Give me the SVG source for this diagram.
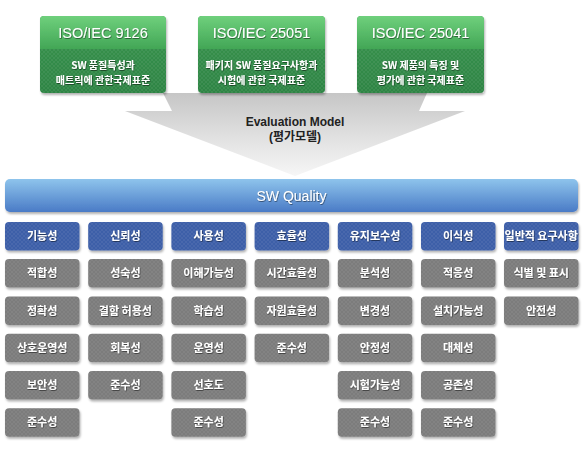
<svg xmlns="http://www.w3.org/2000/svg" width="585" height="450" viewBox="0 0 585 450">
<defs>
<linearGradient id="gTop" x1="0" y1="0" x2="0" y2="1"><stop offset="0" stop-color="#6fd07c"/><stop offset="1" stop-color="#42a656"/></linearGradient>
<linearGradient id="gBot" x1="0" y1="0" x2="0" y2="1"><stop offset="0" stop-color="#3a9650"/><stop offset="1" stop-color="#2e8444"/></linearGradient>
<linearGradient id="arrowG" x1="0" y1="0" x2="0" y2="1"><stop offset="0" stop-color="#c6c6c6"/><stop offset="0.6" stop-color="#e4e4e4"/><stop offset="1" stop-color="#f6f6f6"/></linearGradient>
<linearGradient id="barG" x1="0" y1="0" x2="0" y2="1"><stop offset="0" stop-color="#8ec4ec"/><stop offset="1" stop-color="#4a7bc6"/></linearGradient>
<pattern id="tex" width="4" height="4" patternUnits="userSpaceOnUse"><path d="M0 4 L4 0 M0 0 L4 4" stroke="#ffffff" stroke-width="0.5" opacity="0.12"/></pattern>
<filter id="sh" x="-10%" y="-10%" width="120%" height="130%"><feDropShadow dx="1" dy="2" stdDeviation="1.2" flood-color="#000" flood-opacity="0.3"/></filter>
<filter id="ts" x="-10%" y="-20%" width="120%" height="140%"><feDropShadow dx="0.6" dy="0.8" stdDeviation="0.4" flood-color="#000" flood-opacity="0.55"/></filter>
</defs>
<style>
.cat{fill:#3c5ea8}
.sub{fill:#7b7b7b}
.t{font-family:"Noto Sans CJK KR","Liberation Sans",sans-serif;font-size:11px;font-weight:bold;fill:#fff;text-anchor:middle;filter:url(#ts)}
.gt{font-family:"Liberation Sans","Noto Sans CJK KR",sans-serif;font-size:14.5px;fill:#fff;text-anchor:middle;filter:url(#ts)}
.gs{font-family:"Noto Sans CJK KR","Liberation Sans",sans-serif;font-size:10px;font-weight:bold;fill:#fff;text-anchor:middle;filter:url(#ts)}
.em{font-family:"Liberation Sans","Noto Sans CJK KR",sans-serif;font-size:12px;font-weight:bold;fill:#222;text-anchor:middle}
</style>
<rect width="585" height="450" fill="#fff"/>
<g id="connectors">
<polygon points="163,93 427,93 419,111 465,111 295,176 125,111 172,111" fill="url(#arrowG)"/>
<text class="em" x="295" y="126">Evaluation Model</text>
<text class="em" x="295" y="141">(평가모델)</text>
</g>
<g id="iso9126" filter="url(#sh)">
<rect x="40" y="16" width="126" height="77" rx="4" fill="url(#gBot)"/>
<path d="M44 16 H162 A4 4 0 0 1 166 20 V49 H40 V20 A4 4 0 0 1 44 16 Z" fill="url(#gTop)"/>
<rect x="40" y="49" width="126" height="44" fill="url(#tex)"/>
<text class="gt" x="103" y="38">ISO/IEC 9126</text>
<text class="gs" x="103" y="69">SW 품질특성과</text>
<text class="gs" x="103" y="84">매트릭에  관한국제표준</text>
</g>
<g id="iso25051" filter="url(#sh)">
<rect x="198" y="16" width="127" height="77" rx="4" fill="url(#gBot)"/>
<path d="M202 16 H321 A4 4 0 0 1 325 20 V49 H198 V20 A4 4 0 0 1 202 16 Z" fill="url(#gTop)"/>
<rect x="198" y="49" width="127" height="44" fill="url(#tex)"/>
<text class="gt" x="261.5" y="38">ISO/IEC 25051</text>
<text class="gs" x="261.5" y="69">패키지 SW 품질요구사항과</text>
<text class="gs" x="261.5" y="84">시험에 관한 국제표준</text>
</g>
<g id="iso25041" filter="url(#sh)">
<rect x="357" y="16" width="127" height="77" rx="4" fill="url(#gBot)"/>
<path d="M361 16 H480 A4 4 0 0 1 484 20 V49 H357 V20 A4 4 0 0 1 361 16 Z" fill="url(#gTop)"/>
<rect x="357" y="49" width="127" height="44" fill="url(#tex)"/>
<text class="gt" x="420.5" y="38">ISO/IEC 25041</text>
<text class="gs" x="420.5" y="69">SW 제품의 특징 및</text>
<text class="gs" x="420.5" y="84">평가에 관한 국제표준</text>
</g>
<g id="swquality" filter="url(#sh)">
<rect x="5" y="179" width="573" height="33" rx="5" fill="url(#barG)"/>
<text class="gt" x="291.5" y="201" style="font-size:14px">SW Quality</text>
</g>
<g id="col1">
<g id="c1h" filter="url(#sh)"><rect class="cat" x="5" y="222" width="74.5" height="28.5" rx="4"/><rect x="5" y="222" width="74.5" height="28.5" rx="4" fill="url(#tex)"/><text class="t" x="42.2" y="240">기능성</text></g>
<g id="c1r1" filter="url(#sh)"><rect class="sub" x="5" y="259" width="74.5" height="28.5" rx="4"/><rect x="5" y="259" width="74.5" height="28.5" rx="4" fill="url(#tex)"/><text class="t" x="42.2" y="277">적합성</text></g>
<g id="c1r2" filter="url(#sh)"><rect class="sub" x="5" y="296.5" width="74.5" height="28.5" rx="4"/><rect x="5" y="296.5" width="74.5" height="28.5" rx="4" fill="url(#tex)"/><text class="t" x="42.2" y="314.5">정확성</text></g>
<g id="c1r3" filter="url(#sh)"><rect class="sub" x="5" y="333.7" width="74.5" height="28.5" rx="4"/><rect x="5" y="333.7" width="74.5" height="28.5" rx="4" fill="url(#tex)"/><text class="t" x="42.2" y="351.7">상호운영성</text></g>
<g id="c1r4" filter="url(#sh)"><rect class="sub" x="5" y="371" width="74.5" height="28.5" rx="4"/><rect x="5" y="371" width="74.5" height="28.5" rx="4" fill="url(#tex)"/><text class="t" x="42.2" y="389">보안성</text></g>
<g id="c1r5" filter="url(#sh)"><rect class="sub" x="5" y="408.2" width="74.5" height="28.5" rx="4"/><rect x="5" y="408.2" width="74.5" height="28.5" rx="4" fill="url(#tex)"/><text class="t" x="42.2" y="426.2">준수성</text></g>
</g>
<g id="col2">
<g id="c2h" filter="url(#sh)"><rect class="cat" x="88.2" y="222" width="74.5" height="28.5" rx="4"/><rect x="88.2" y="222" width="74.5" height="28.5" rx="4" fill="url(#tex)"/><text class="t" x="125.4" y="240">신뢰성</text></g>
<g id="c2r1" filter="url(#sh)"><rect class="sub" x="88.2" y="259" width="74.5" height="28.5" rx="4"/><rect x="88.2" y="259" width="74.5" height="28.5" rx="4" fill="url(#tex)"/><text class="t" x="125.4" y="277">성숙성</text></g>
<g id="c2r2" filter="url(#sh)"><rect class="sub" x="88.2" y="296.5" width="74.5" height="28.5" rx="4"/><rect x="88.2" y="296.5" width="74.5" height="28.5" rx="4" fill="url(#tex)"/><text class="t" x="125.4" y="314.5">결함 허용성</text></g>
<g id="c2r3" filter="url(#sh)"><rect class="sub" x="88.2" y="333.7" width="74.5" height="28.5" rx="4"/><rect x="88.2" y="333.7" width="74.5" height="28.5" rx="4" fill="url(#tex)"/><text class="t" x="125.4" y="351.7">회복성</text></g>
<g id="c2r4" filter="url(#sh)"><rect class="sub" x="88.2" y="371" width="74.5" height="28.5" rx="4"/><rect x="88.2" y="371" width="74.5" height="28.5" rx="4" fill="url(#tex)"/><text class="t" x="125.4" y="389">준수성</text></g>
</g>
<g id="col3">
<g id="c3h" filter="url(#sh)"><rect class="cat" x="171.4" y="222" width="74.5" height="28.5" rx="4"/><rect x="171.4" y="222" width="74.5" height="28.5" rx="4" fill="url(#tex)"/><text class="t" x="208.6" y="240">사용성</text></g>
<g id="c3r1" filter="url(#sh)"><rect class="sub" x="171.4" y="259" width="74.5" height="28.5" rx="4"/><rect x="171.4" y="259" width="74.5" height="28.5" rx="4" fill="url(#tex)"/><text class="t" x="208.6" y="277">이해가능성</text></g>
<g id="c3r2" filter="url(#sh)"><rect class="sub" x="171.4" y="296.5" width="74.5" height="28.5" rx="4"/><rect x="171.4" y="296.5" width="74.5" height="28.5" rx="4" fill="url(#tex)"/><text class="t" x="208.6" y="314.5">학습성</text></g>
<g id="c3r3" filter="url(#sh)"><rect class="sub" x="171.4" y="333.7" width="74.5" height="28.5" rx="4"/><rect x="171.4" y="333.7" width="74.5" height="28.5" rx="4" fill="url(#tex)"/><text class="t" x="208.6" y="351.7">운영성</text></g>
<g id="c3r4" filter="url(#sh)"><rect class="sub" x="171.4" y="371" width="74.5" height="28.5" rx="4"/><rect x="171.4" y="371" width="74.5" height="28.5" rx="4" fill="url(#tex)"/><text class="t" x="208.6" y="389">선호도</text></g>
<g id="c3r5" filter="url(#sh)"><rect class="sub" x="171.4" y="408.2" width="74.5" height="28.5" rx="4"/><rect x="171.4" y="408.2" width="74.5" height="28.5" rx="4" fill="url(#tex)"/><text class="t" x="208.6" y="426.2">준수성</text></g>
</g>
<g id="col4">
<g id="c4h" filter="url(#sh)"><rect class="cat" x="254.6" y="222" width="74.5" height="28.5" rx="4"/><rect x="254.6" y="222" width="74.5" height="28.5" rx="4" fill="url(#tex)"/><text class="t" x="291.8" y="240">효율성</text></g>
<g id="c4r1" filter="url(#sh)"><rect class="sub" x="254.6" y="259" width="74.5" height="28.5" rx="4"/><rect x="254.6" y="259" width="74.5" height="28.5" rx="4" fill="url(#tex)"/><text class="t" x="291.8" y="277">시간효율성</text></g>
<g id="c4r2" filter="url(#sh)"><rect class="sub" x="254.6" y="296.5" width="74.5" height="28.5" rx="4"/><rect x="254.6" y="296.5" width="74.5" height="28.5" rx="4" fill="url(#tex)"/><text class="t" x="291.8" y="314.5">자원효율성</text></g>
<g id="c4r3" filter="url(#sh)"><rect class="sub" x="254.6" y="333.7" width="74.5" height="28.5" rx="4"/><rect x="254.6" y="333.7" width="74.5" height="28.5" rx="4" fill="url(#tex)"/><text class="t" x="291.8" y="351.7">준수성</text></g>
</g>
<g id="col5">
<g id="c5h" filter="url(#sh)"><rect class="cat" x="337.8" y="222" width="74.5" height="28.5" rx="4"/><rect x="337.8" y="222" width="74.5" height="28.5" rx="4" fill="url(#tex)"/><text class="t" x="375" y="240">유지보수성</text></g>
<g id="c5r1" filter="url(#sh)"><rect class="sub" x="337.8" y="259" width="74.5" height="28.5" rx="4"/><rect x="337.8" y="259" width="74.5" height="28.5" rx="4" fill="url(#tex)"/><text class="t" x="375" y="277">분석성</text></g>
<g id="c5r2" filter="url(#sh)"><rect class="sub" x="337.8" y="296.5" width="74.5" height="28.5" rx="4"/><rect x="337.8" y="296.5" width="74.5" height="28.5" rx="4" fill="url(#tex)"/><text class="t" x="375" y="314.5">변경성</text></g>
<g id="c5r3" filter="url(#sh)"><rect class="sub" x="337.8" y="333.7" width="74.5" height="28.5" rx="4"/><rect x="337.8" y="333.7" width="74.5" height="28.5" rx="4" fill="url(#tex)"/><text class="t" x="375" y="351.7">안정성</text></g>
<g id="c5r4" filter="url(#sh)"><rect class="sub" x="337.8" y="371" width="74.5" height="28.5" rx="4"/><rect x="337.8" y="371" width="74.5" height="28.5" rx="4" fill="url(#tex)"/><text class="t" x="375" y="389">시험가능성</text></g>
<g id="c5r5" filter="url(#sh)"><rect class="sub" x="337.8" y="408.2" width="74.5" height="28.5" rx="4"/><rect x="337.8" y="408.2" width="74.5" height="28.5" rx="4" fill="url(#tex)"/><text class="t" x="375" y="426.2">준수성</text></g>
</g>
<g id="col6">
<g id="c6h" filter="url(#sh)"><rect class="cat" x="421" y="222" width="74.5" height="28.5" rx="4"/><rect x="421" y="222" width="74.5" height="28.5" rx="4" fill="url(#tex)"/><text class="t" x="458.2" y="240">이식성</text></g>
<g id="c6r1" filter="url(#sh)"><rect class="sub" x="421" y="259" width="74.5" height="28.5" rx="4"/><rect x="421" y="259" width="74.5" height="28.5" rx="4" fill="url(#tex)"/><text class="t" x="458.2" y="277">적응성</text></g>
<g id="c6r2" filter="url(#sh)"><rect class="sub" x="421" y="296.5" width="74.5" height="28.5" rx="4"/><rect x="421" y="296.5" width="74.5" height="28.5" rx="4" fill="url(#tex)"/><text class="t" x="458.2" y="314.5">설치가능성</text></g>
<g id="c6r3" filter="url(#sh)"><rect class="sub" x="421" y="333.7" width="74.5" height="28.5" rx="4"/><rect x="421" y="333.7" width="74.5" height="28.5" rx="4" fill="url(#tex)"/><text class="t" x="458.2" y="351.7">대체성</text></g>
<g id="c6r4" filter="url(#sh)"><rect class="sub" x="421" y="371" width="74.5" height="28.5" rx="4"/><rect x="421" y="371" width="74.5" height="28.5" rx="4" fill="url(#tex)"/><text class="t" x="458.2" y="389">공존성</text></g>
<g id="c6r5" filter="url(#sh)"><rect class="sub" x="421" y="408.2" width="74.5" height="28.5" rx="4"/><rect x="421" y="408.2" width="74.5" height="28.5" rx="4" fill="url(#tex)"/><text class="t" x="458.2" y="426.2">준수성</text></g>
</g>
<g id="col7">
<g id="c7h" filter="url(#sh)"><rect class="cat" x="504" y="222" width="74.5" height="28.5" rx="4"/><rect x="504" y="222" width="74.5" height="28.5" rx="4" fill="url(#tex)"/><text class="t" x="541.2" y="240">일반적 요구사항</text></g>
<g id="c7r1" filter="url(#sh)"><rect class="sub" x="504" y="259" width="74.5" height="28.5" rx="4"/><rect x="504" y="259" width="74.5" height="28.5" rx="4" fill="url(#tex)"/><text class="t" x="541.2" y="277">식별 및 표시</text></g>
<g id="c7r2" filter="url(#sh)"><rect class="sub" x="504" y="296.5" width="74.5" height="28.5" rx="4"/><rect x="504" y="296.5" width="74.5" height="28.5" rx="4" fill="url(#tex)"/><text class="t" x="541.2" y="314.5">안전성</text></g>
</g>
</svg>
